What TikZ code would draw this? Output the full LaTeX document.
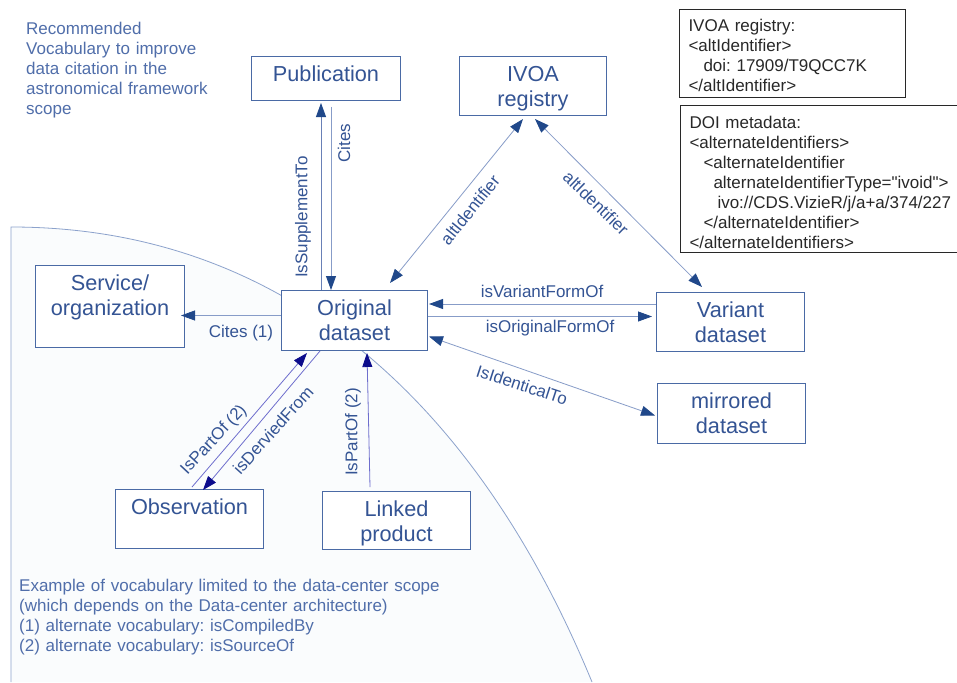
\documentclass[tikz,border=0pt]{standalone}
\usepackage{fontspec}
\setmainfont{Liberation Sans}
\usetikzlibrary{arrows.meta}
\frenchspacing

\newcommand{\boxfont}{\fontsize{21.7}{25}\selectfont}
\newcommand{\labfont}{\fontsize{17}{20}\selectfont}

\begin{document}
\begin{tikzpicture}[x=1pt,y=-1pt]
% Define colors
\definecolor{boxblue}{RGB}{74,106,165}
\definecolor{textblue}{RGB}{52,84,148}
\definecolor{noteblue}{RGB}{80,110,170}
\definecolor{linkline}{RGB}{135,156,200}
\definecolor{suppline}{RGB}{105,128,182}
\definecolor{headblue}{RGB}{32,72,138}
\definecolor{partline}{RGB}{110,110,205}
\definecolor{parthead}{RGB}{12,12,140}
\definecolor{scopeline}{RGB}{140,162,204}
\definecolor{scopefill}{RGB}{250,252,253}
\definecolor{codegray}{RGB}{40,40,40}

% Styles
\tikzset{
  box/.style={draw=boxblue, fill=white, line width=1pt, anchor=north west,
    inner xsep=0pt, inner ysep=0pt, text height=25pt, align=center,
    text=textblue, font=\boxfont},
  code/.style={draw=codegray, fill=white, line width=1pt, anchor=north west,
    inner xsep=9pt, inner ysep=0pt, align=left, text=codegray, font=\labfont},
  note/.style={anchor=north west, inner sep=0pt, align=left, text=noteblue,
    font=\labfont, text height=13pt},
  lab/.style={inner sep=0pt, text=textblue, font=\labfont},
  link/.style={draw=linkline, line width=0.8pt,
    -{Triangle[length=14pt,width=10pt,color=headblue]}},
  twolink/.style={draw=linkline, line width=0.8pt,
    {Triangle[length=14pt,width=10pt,color=headblue]}-{Triangle[length=14pt,width=10pt,color=headblue]}},
  partlink/.style={draw=partline, line width=0.8pt,
    -{Triangle[length=14pt,width=10pt,color=parthead]}}
}

% Set background
\fill[white] (0,0) rectangle (957,682);
\useasboundingbox (0,0) rectangle (957,682);

% Data-center scope
\fill[scopefill] (11,227) .. controls (290,227) and (480,410) .. (592,682) -- (11,682) -- cycle;
\draw[scopeline, line width=0.8pt] (11,682) -- (11,227) .. controls (290,227) and (480,410) .. (592,682);

% Notes
\node[note, text width=200pt] (title) at (26,21) {Recommended\\Vocabulary to improve\\data citation in the\\astronomical framework\\scope};
\node[note, text width=440pt] (scopenote) at (19,578) {Example of vocabulary limited to the data-center scope\\(which depends on the Data-center architecture)\\(1) alternate vocabulary: isCompiledBy\\(2) alternate vocabulary: isSourceOf};

% Boxes
\node[box, text width=149pt, minimum height=44pt, text depth=19pt] (pub) at (251,56) {Publication};
\node[box, text width=147pt, minimum height=59pt, text depth=34pt] (ivoa) at (459,56) {IVOA\\registry};
\node[box, text width=149pt, minimum height=82pt, text depth=57pt] (serv) at (35,265) {Service/\\organization};
\node[box, text width=146pt, minimum height=60pt, text depth=35pt] (orig) at (281,290) {Original\\dataset};
\node[box, text width=148pt, minimum height=59pt, text depth=34pt] (var) at (656,292) {Variant\\dataset};
\node[box, text width=148pt, minimum height=60pt, text depth=35pt] (mirr) at (657,383) {mirrored\\dataset};
\node[box, text width=148pt, minimum height=59pt, text depth=34pt] (obs) at (115,489) {Observation};
\node[box, text width=148pt, minimum height=58pt, text depth=33pt] (lnk) at (322,491) {Linked\\product};

% Identifier examples
\node[code, text width=208pt, minimum height=88pt, text height=22pt, text depth=66pt] (reg) at (679,9)
  {IVOA registry:\\<altIdentifier>\\\hspace*{15pt}doi: 17909/T9QCC7K\\</altIdentifier>};
\node[code, text width=272pt, minimum height=147pt, text height=23pt, text depth=124pt] (doi) at (680,105)
  {DOI metadata:\\<alternateIdentifiers>\\\hspace*{14pt}<alternateIdentifier\\\hspace*{24pt}alternateIdentifierType=\textquotedbl ivoid\textquotedbl>\\\hspace*{28pt}ivo://CDS.VizieR/j/a+a/374/227\\\hspace*{14pt}</alternateIdentifier>\\</alternateIdentifiers>};

% Relations
\draw[link, draw=suppline] ([xshift=40pt]orig.north west) -- ([xshift=70pt,yshift=-2pt]pub.south west);
\draw[link] ([xshift=80pt,yshift=-6pt]pub.south west) -- ([xshift=50pt]orig.north west);
\draw[link] ([yshift=5pt]orig.west) -- ([yshift=5pt,xshift=-4pt]orig.west -| serv.east);
\draw[twolink] ([xshift=109pt,yshift=7pt]orig.north west) -- ([xshift=64pt,yshift=-3pt]ivoa.south west);
\draw[twolink] ([xshift=76pt,yshift=-3pt]ivoa.south west) -- ([xshift=46pt,yshift=5pt]var.north west);
\draw[link] ([yshift=18pt]var.west) -- ([yshift=18pt,xshift=1pt]var.west -| orig.east);
\draw[link] ([yshift=4pt]orig.east) -- ([yshift=4pt,xshift=-4pt]orig.east -| var.west);
\draw[twolink] ([xshift=1pt,yshift=-16pt]orig.east) -- ([xshift=-2pt,yshift=-2pt]mirr.west);
\draw[partlink] ([xshift=77pt,yshift=2pt]obs.north west) -- ([xshift=26pt,yshift=-2pt]orig.south west);
\draw[partlink] ([xshift=39pt]orig.south west) -- ([xshift=88pt,yshift=-1pt]obs.north west);
\draw[partlink] ([xshift=48pt,yshift=4pt]lnk.north west) -- ([xshift=86pt,yshift=-2pt]orig.south west);

% Relation labels
\node[lab, rotate=90] (supp) at (303,217) {IsSupplementTo};
\node[lab, rotate=90] (cites) at (344,143) {Cites};
\node[lab] (citesone) at (241,333) {Cites (1)};
\node[lab, rotate=51] (altleft) at (470,210) {altIdentifier};
\node[lab, rotate=-44] (altright) at (596,203) {altIdentifier};
\node[lab] (variant) at (542,291) {isVariantFormOf};
\node[lab] (original) at (550,328) {isOriginalFormOf};
\node[lab, rotate=-18] (identical) at (522,385) {IsIdenticalTo};
\node[lab, rotate=47] (partobs) at (214,440) {IsPartOf (2)};
\node[lab, rotate=48] (derived) at (273,430) {isDerviedFrom};
\node[lab, rotate=90] (partlnk) at (353,432) {IsPartOf (2)};

\end{tikzpicture}
\end{document}
